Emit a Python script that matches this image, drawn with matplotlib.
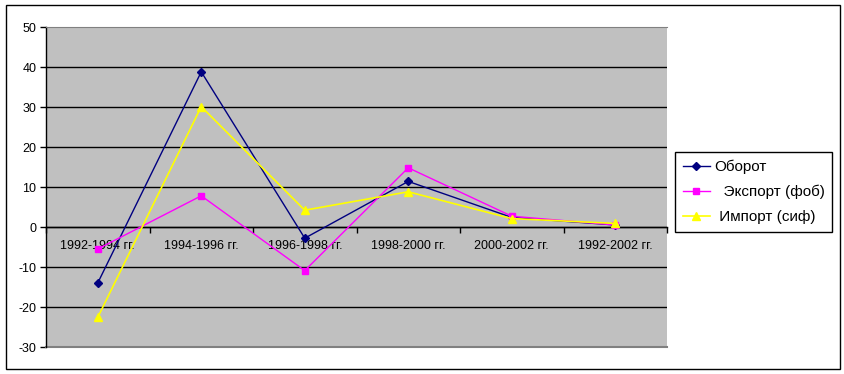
import matplotlib
matplotlib.use("Agg")
import matplotlib.pyplot as plt
from matplotlib.patches import Rectangle
from matplotlib.ticker import FixedLocator, NullFormatter, FixedFormatter

plt.rcParams['font.family'] = ['Liberation Sans', 'DejaVu Sans']

categories = ["1992-1994 гг.", "1994-1996 гг.", "1996-1998 гг.",
              "1998-2000 гг.", "2000-2002 гг.", "1992-2002 гг."]
oborot = [-14.0, 38.8, -2.8, 11.4, 2.4, 0.5]
eksport = [-5.5, 7.8, -10.9, 14.8, 2.7, 0.5]
import_ = [-22.6, 30.1, 4.2, 8.8, 2.1, 0.9]
series_labels = ["Оборот", "  Экспорт (фоб)", " Импорт (сиф)"]
yticks = [-30, -20, -10, 0, 10, 20, 30, 40, 50]

W, H = 845, 374
fig = plt.figure(figsize=(W / 100, H / 100), dpi=100)
fig.patch.set_facecolor("white")

ax = fig.add_axes([46 / W, 1 - 347 / H, (667 - 46) / W, (347 - 27) / H])
ax.set_facecolor("#C0C0C0")

x = list(range(len(categories)))
ax.set_xlim(-0.5, len(categories) - 0.5)
ax.set_ylim(-30, 50)

for yv in yticks[1:-1]:
    ax.axhline(yv, color="black", lw=1.0, zorder=1)

l1, = ax.plot(x, oborot, color="#000080", lw=1.0, marker="D", ms=4.2,
              mfc="#000080", mec="#000080", zorder=3)
l2, = ax.plot(x, eksport, color="#FF00FF", lw=1.0, marker="s", ms=4.5,
              mfc="#FF00FF", mec="#FF00FF", zorder=4)
l3, = ax.plot(x, import_, color="#FFFF00", lw=1.2, marker="^", ms=5.5,
              mfc="#FFFF00", mec="#FFFF00", zorder=5)

# spines
ax.spines["left"].set_color("black")
ax.spines["left"].set_linewidth(1.0)
ax.spines["bottom"].set_position(("data", 0))
ax.spines["bottom"].set_color("black")
ax.spines["bottom"].set_linewidth(1.0)
ax.spines["top"].set_color("#808080")
ax.spines["right"].set_visible(False)
ax.axhline(-30, color="#808080", lw=1.5, zorder=2, clip_on=False)

# y ticks
ax.set_yticks(yticks)
ax.set_yticklabels([str(v) for v in yticks])
ax.tick_params(axis="y", direction="out", length=4, width=1, pad=3,
               labelsize=9, colors="black")

# x ticks: marks at boundaries, labels at centers
ax.xaxis.set_major_locator(FixedLocator([i + 0.5 for i in range(-1, len(categories))]))
ax.xaxis.set_major_formatter(NullFormatter())
ax.xaxis.set_minor_locator(FixedLocator(x))
ax.xaxis.set_minor_formatter(FixedFormatter(categories))
ax.tick_params(axis="x", which="major", direction="out", length=4, width=1)
ax.tick_params(axis="x", which="minor", length=0, pad=9.5, labelsize=9)

# legend
leg = fig.legend([l1, l2, l3], series_labels, loc="upper left",
                 bbox_to_anchor=(675 / W, 1 - 152 / H), frameon=True,
                 fancybox=False, edgecolor="black", framealpha=1,
                 fontsize=11, handlelength=1.8, handletextpad=0.3,
                 borderpad=0.5, labelspacing=0.72, borderaxespad=0)
leg.get_frame().set_linewidth(1.0)

# outer chart border
fig.patches.append(Rectangle((6 / W, 1 - 369 / H), (840 - 6) / W, (369 - 5) / H,
                             transform=fig.transFigure, fill=False,
                             edgecolor="black", lw=1.0))

fig.savefig("out.png", dpi=100)
